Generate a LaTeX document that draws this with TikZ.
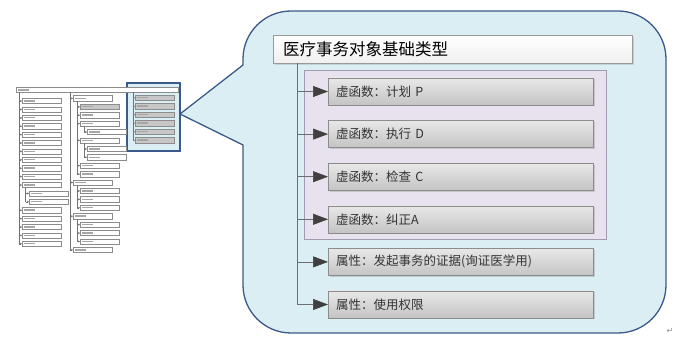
\documentclass[tikz,border=0pt]{standalone}
\usepackage{fontspec}
\newfontfamily\cjk{Noto Sans CJK SC}
\newfontfamily\symfont{DejaVu Sans}
\usepackage{tikz}
\usetikzlibrary{positioning, arrows.meta, calc, shadows}

\definecolor{calloutFill}{HTML}{DAEEF3}
\definecolor{calloutEdge}{HTML}{3B5A8A}
\definecolor{groupFill}{HTML}{E7E2EE}
\definecolor{groupEdge}{HTML}{A29CB2}
\definecolor{boxTop}{HTML}{E8E8E8}
\definecolor{boxBottom}{HTML}{C4C4C4}
\definecolor{boxEdge}{HTML}{8C8C8C}
\definecolor{linkGray}{HTML}{6E6E6E}

\tikzset{
  funcbox/.style={draw=boxEdge, top color=boxTop, bottom color=boxBottom,
    minimum height=27pt, text width=249pt, inner xsep=8pt, inner ysep=0pt,
    align=left, anchor=west, text=black!80, font=\cjk\fontsize{12.5}{14}\selectfont,
    drop shadow={shadow xshift=1.5pt, shadow yshift=-1.5pt, opacity=0.3}},
  titlebox/.style={draw=black!40, top color=white, bottom color=black!6,
    minimum height=28pt, text width=339pt, inner xsep=10pt, inner ysep=0pt,
    align=left, anchor=north west, font=\cjk\fontsize{16.5}{18}\selectfont,
    drop shadow={shadow xshift=1.5pt, shadow yshift=-1.5pt, opacity=0.25}},
  link/.style={draw=linkGray, line width=0.6pt},
  arrowlink/.style={link, -{Triangle[length=15pt, width=11pt, color=black!75]}},
  mini/.style={draw=black!45, fill=white, minimum height=5.3pt, minimum width=38.5pt,
    inner sep=0pt, anchor=west, line width=0.4pt,
    path picture={\fill[black!35] ([xshift=2pt]path picture bounding box.west)
      ++(0,-0.7pt) rectangle ++(11pt,1.4pt);}},
  minigray/.style={mini, fill=black!22},
  minitrunk/.style={draw=black!55, line width=0.4pt},
  minilink/.style={minitrunk, -{Triangle[length=1.6pt, width=1.8pt]}}
}

\begin{document}
\begin{tikzpicture}[x=1pt, y=-1pt]
    \useasboundingbox (0,0) rectangle (697,347);
    % Callout bubble (corner radius 48)
    \draw[fill=calloutFill, draw=calloutEdge, line width=1.3pt]
        (180,114) -- (243,145) -- (243,285)
        .. controls (243,311.5) and (264.5,333) .. (291,333) -- (618,333)
        .. controls (644.5,333) and (666,311.5) .. (666,285) -- (666,59)
        .. controls (666,32.5) and (644.5,11) .. (618,11) -- (291,11)
        .. controls (264.5,11) and (243,32.5) .. (243,59) -- (243,65) -- cycle;

    % Small overview tree
    \draw[fill=calloutFill, draw=calloutEdge, line width=1.1pt] (127,83) rectangle (180,151);
    \node[mini, minimum width=162pt, minimum height=5pt, anchor=north west] (miniTitle) at (16,87.3) {};
    \coordinate (tA) at (19,92.3);
    \coordinate (tB) at (70,92.3);
    \coordinate (tC) at (133,92.3);
    % Column A
    \foreach \i/\lv in {0/1,1/1,2/1,3/1,4/1,5/1,6/1,7/1,8/1,9/1,10/1,11/2,12/2,13/1,14/1,15/1,16/1,17/1}
        \node[mini] (a\i) at ({22+(\lv-1)*7}, {101+8.4*\i}) {};
    % Column B
    \foreach \i/\lv in {0/1,1/2,2/2,3/2,4/3,5/2,6/3,7/3,8/2,9/2,10/1,11/2,12/2,13/2,14/1,15/2,16/2,17/2,18/1}
        \node[mini] (b\i) at ({73+(\lv-1)*7}, {98.3+8.42*\i}) {};
    \node[minigray] at (b1.west) {};
    % Column C
    \foreach \i in {0,...,5}
        \node[minigray] (c\i) at (135, {97.7+8.5*\i}) {};
    % Sub-branch points
    \coordinate (sA) at ($(a10.south west)+(3.5,0)$);
    \foreach \p in {b0,b3,b5,b10,b14}
        \coordinate (s\p) at ($(\p.south west)+(4,0)$);
    % Trunks
    \draw[minitrunk] (tA) -- (tA |- a17.west);
    \draw[minitrunk] (tB) -- (tB |- b18.west);
    \draw[minitrunk] (tC) -- (tC |- c5.west);
    \draw[minitrunk] (sA) -- (sA |- a12.west);
    \draw[minitrunk] (sb0) -- (sb0 |- b9.west);
    \draw[minitrunk] (sb3) -- (sb3 |- b4.west);
    \draw[minitrunk] (sb5) -- (sb5 |- b7.west);
    \draw[minitrunk] (sb10) -- (sb10 |- b13.west);
    \draw[minitrunk] (sb14) -- (sb14 |- b17.west);
    % Branches
    \foreach \n/\t in {a0/tA,a1/tA,a2/tA,a3/tA,a4/tA,a5/tA,a6/tA,a7/tA,a8/tA,a9/tA,a10/tA,
                       a11/sA,a12/sA,a13/tA,a14/tA,a15/tA,a16/tA,a17/tA,
                       b0/tB,b1/sb0,b2/sb0,b3/sb0,b4/sb3,b5/sb0,b6/sb5,b7/sb5,b8/sb0,b9/sb0,
                       b10/tB,b11/sb10,b12/sb10,b13/sb10,b14/tB,b15/sb14,b16/sb14,b17/sb14,b18/tB,
                       c0/tC,c1/tC,c2/tC,c3/tC,c4/tC,c5/tC}
        \draw[minilink] (\t |- \n.west) -- (\n.west);

    % Enlarged part
    \node[titlebox] (baseType) at (273,35) {医疗事务对象基础类型};
    \draw[fill=groupFill, draw=groupEdge, line width=0.8pt] (304,70) rectangle (606,239);
    \node[funcbox] (planP) at (328,91.5) {虚函数：计划 P};
    \node[funcbox] (doD) at (328,134.1) {虚函数：执行 D};
    \node[funcbox] (checkC) at (328,176.7) {虚函数：检查 C};
    \node[funcbox] (actA) at (328,219.3) {虚函数：纠正A};
    \node[funcbox] (attrProof) at (328,261.9) {属性：发起事务的证据(询证医学用)};
    \node[funcbox] (attrRight) at (328,304.5) {属性：使用权限};
    \coordinate (trunk) at (297,63);
    \draw[link] (trunk) -- (trunk |- attrRight.west);
    \foreach \n in {planP, doD, checkC, actA, attrProof, attrRight}
        \draw[arrowlink] (trunk |- \n.west) -- (\n.west);

    \node[text=black!45, font=\symfont\fontsize{8}{8}\selectfont] (retMark) at (670,331) {↵};
\end{tikzpicture}
\end{document}
